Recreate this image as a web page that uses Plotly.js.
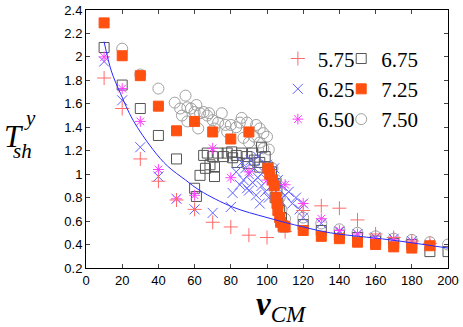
<!DOCTYPE html>
<html>
<head>
<meta charset="utf-8">
<script src="https://cdn.plot.ly/plotly-3.0.1.min.js"></script>
<style>
  html, body { margin: 0; padding: 0; background: #fff; }
  #plot { width: 463px; height: 327px; }
</style>
</head>
<body>
<div id="plot"></div>
<script>
// Data, one pair of arrays per series
const x575 = [10, 20, 30, 40, 50, 60, 70, 80, 90, 100, 110, 120, 130, 140, 150, 160, 170, 180, 190];
const y575 = [1.82, 1.56, 1.13, 0.94, 0.78, 0.70, 0.59, 0.55, 0.48, 0.46, 0.51, 0.69, 0.73, 0.71, 0.61, 0.49, 0.46, 0.43, 0.41];

const x625 = [10, 20, 30, 40, 50, 60, 70, 80, 81, 83, 85, 86, 87, 88, 89, 90, 90, 91, 92, 93, 94, 95, 95, 96, 97, 98, 99, 100, 100, 101, 102, 103, 104, 105, 106, 107, 108, 110, 112, 114, 116, 118, 120, 120, 130, 140, 150, 160, 170, 180];
const y625 = [1.96, 1.63, 1.23, 0.98, 0.79, 0.70, 0.67, 0.72, 0.84, 1.02, 0.91, 1.10, 0.95, 1.05, 0.88, 0.86, 1.00, 1.12, 0.93, 1.05, 0.82, 0.97, 1.15, 0.75, 0.90, 1.02, 0.85, 1.08, 0.95, 0.80, 1.00, 0.90, 1.05, 0.85, 0.95, 0.78, 0.90, 0.82, 0.85, 0.75, 0.80, 0.70, 0.75, 0.63, 0.58, 0.51, 0.49, 0.46, 0.45, 0.43];

const x650 = [10, 20, 30, 40, 50, 60, 70, 80, 90, 100, 110, 120, 130, 140, 150, 160, 170, 180, 190];
const y650 = [2.00, 1.73, 1.45, 1.04, 0.79, 0.82, 1.22, 0.97, 1.02, 0.95, 0.91, 0.75, 0.62, 0.52, 0.49, 0.45, 0.44, 0.42, 0.40];

const x675 = [10, 20, 30, 40, 50, 60, 61, 63, 65, 66, 67, 68.5, 70, 71, 71, 73, 76, 78, 80.5, 81, 83, 83.5, 86, 89, 89.5, 92, 93, 96, 96, 97, 99, 100.5, 102.5, 104.5, 104.5, 105.5, 106, 107, 108, 109, 120, 130, 140, 150, 160, 170, 180, 190, 200];
const y675 = [2.08, 1.76, 1.56, 1.33, 1.13, 0.88, 0.81, 0.99, 1.16, 1.05, 1.18, 1.08, 1.15, 0.98, 1.06, 1.18, 1.15, 1.18, 1.19, 1.14, 1.16, 1.10, 1.18, 1.15, 1.09, 1.18, 1.12, 1.10, 1.06, 1.23, 1.15, 1.06, 1.02, 0.92, 0.80, 0.86, 0.75, 0.69, 0.63, 0.55, 0.57, 0.52, 0.48, 0.46, 0.43, 0.41, 0.40, 0.34, 0.34];

const x725 = [10, 20, 30, 40, 50, 60, 70, 80, 90, 100.5, 101.5, 103, 104, 105, 105.5, 106, 107, 107.5, 109, 110, 120, 130, 140, 150, 160, 170, 180, 190];
const y725 = [2.29, 2.01, 1.84, 1.58, 1.37, 1.45, 1.36, 1.30, 1.36, 1.05, 1.00, 0.95, 0.90, 0.80, 0.75, 0.69, 0.63, 0.59, 0.56, 0.55, 0.52, 0.47, 0.45, 0.42, 0.40, 0.38, 0.37, 0.39];

const x750 = [20, 30, 40, 49, 52, 53, 55, 56, 56, 58, 60, 61, 62, 63, 65, 67, 68, 70, 71, 73, 75, 77, 78, 80, 83, 85, 86, 87, 89, 90, 93, 94, 96, 96, 98, 98, 100, 101, 103, 105, 107, 108, 110, 120, 130, 140, 150, 160, 170, 180, 190, 200];
const y750 = [2.07, 1.85, 1.73, 1.61, 1.56, 1.50, 1.67, 1.45, 1.57, 1.56, 1.53, 1.59, 1.39, 1.52, 1.53, 1.50, 1.52, 1.46, 1.39, 1.44, 1.52, 1.42, 1.36, 1.42, 1.40, 1.44, 1.48, 1.31, 1.44, 1.27, 1.32, 1.42, 1.39, 1.27, 1.35, 1.22, 1.32, 1.21, 1.05, 0.95, 0.80, 0.70, 0.62, 0.63, 0.58, 0.53, 0.50, 0.47, 0.45, 0.44, 0.42, 0.40];

// fitted curve, points
const xFit = [10, 14, 19, 26, 37, 45, 55, 63, 81, 100, 120, 135, 168, 200];
const yFit = [2.13, 1.88, 1.69, 1.46, 1.21, 1.07, 0.95, 0.86, 0.72, 0.63, 0.55, 0.50, 0.44, 0.37];

const xTicks = [0, 20, 40, 60, 80, 100, 120, 140, 160, 180, 200];
const yTicks = [0.2, 0.4, 0.6, 0.8, 1, 1.2, 1.4, 1.6, 1.8, 2, 2.2, 2.4];

function series(x, y, name, symbol, color, size, legend, rank) {
    return {
        x: x, y: y, name: name, type: 'scatter', mode: 'markers',
        legend: legend, legendrank: rank,
        marker: {symbol: symbol, size: size, color: color, line: {color: color, width: 1}}
    };
}

const traces = [
    series(x750, y750, '7.50', 'circle-open', '#a0a0a0', 11, 'legend2', 3),
    series(x675, y675, '6.75', 'square-open', '#555555', 10, 'legend2', 1),
    series(x625, y625, '6.25', 'x-thin-open', '#6060ff', 10, 'legend', 2),
    series(x650, y650, '6.50', 'asterisk-open', '#ff40ff', 9, 'legend', 3),
    series(x575, y575, '5.75', 'cross-thin-open', '#ff6a6a', 10, 'legend', 1),
    series(x725, y725, '7.25', 'square', '#ff5010', 10, 'legend2', 2),
    {
        x: xFit, y: yFit, type: 'scatter', mode: 'lines', showlegend: false,
        line: {color: '#2a2aff', width: 1, shape: 'spline'}
    }
];

const tickFont = {family: 'Liberation Sans, Arial, sans-serif', size: 13, color: '#000'};
const serif = 'Liberation Serif, Times New Roman, serif';
const legendFont = {family: serif, size: 21, color: '#000'};

const layout = {
    width: 463, height: 327,
    margin: {l: 86, r: 15, t: 10, b: 59},
    paper_bgcolor: '#fff', plot_bgcolor: '#fff',
    xaxis: {
        range: [0, 200], tickvals: xTicks, ticks: 'inside', ticklen: 4,
        showline: true, linecolor: '#000', linewidth: 1, mirror: 'ticks',
        showgrid: false, zeroline: false, tickfont: tickFont
    },
    yaxis: {
        range: [0.2, 2.4], tickvals: yTicks, ticks: 'inside', ticklen: 4,
        showline: true, linecolor: '#000', linewidth: 1, mirror: 'ticks',
        showgrid: false, zeroline: false, tickfont: tickFont
    },
    legend: {
        x: 0.53, y: 0.89, xanchor: 'left', yanchor: 'top',
        bgcolor: 'rgba(0,0,0,0)', font: legendFont, itemwidth: 30
    },
    legend2: {
        x: 0.705, y: 0.89, xanchor: 'left', yanchor: 'top',
        bgcolor: 'rgba(0,0,0,0)', font: legendFont, itemwidth: 30
    },
    annotations: [
        {
            xref: 'paper', yref: 'paper', x: 0.54, y: -0.15,
            xanchor: 'center', yanchor: 'middle', showarrow: false,
            text: '<b><i>v</i></b><sub><i>CM</i></sub>',
            font: {family: serif, size: 33, color: '#000'}
        },
        {
            xref: 'paper', yref: 'paper', x: -0.2, y: 0.51,
            xanchor: 'center', yanchor: 'middle', showarrow: false,
            text: '<i>T</i>', font: {family: serif, size: 31, color: '#000'}
        },
        {
            xref: 'paper', yref: 'paper', x: -0.175, y: 0.455,
            xanchor: 'center', yanchor: 'middle', showarrow: false,
            text: '<i>sh</i>', font: {family: serif, size: 21, color: '#000'}
        },
        {
            xref: 'paper', yref: 'paper', x: -0.155, y: 0.58,
            xanchor: 'center', yanchor: 'middle', showarrow: false,
            text: '<i>y</i>', font: {family: serif, size: 21, color: '#000'}
        }
    ]
};

Plotly.newPlot('plot', traces, layout, {displayModeBar: false, staticPlot: true});
</script>
</body>
</html>
